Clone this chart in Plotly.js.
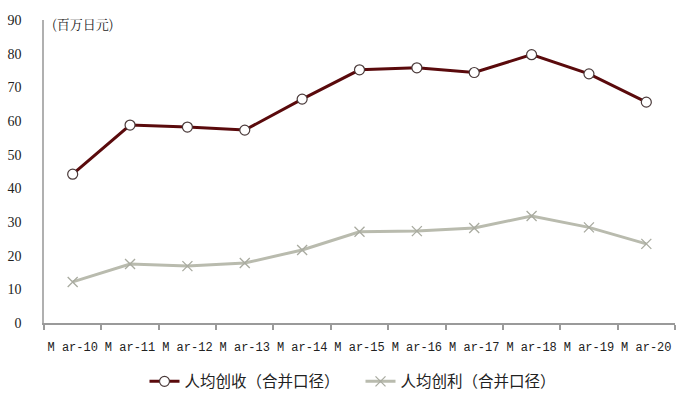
<!DOCTYPE html>
<html>
<head>
<meta charset="utf-8">
<script src="https://cdn.plot.ly/plotly-3.0.1.min.js"></script>
<style>
  body { margin: 0; background: #fff; }
  #chart { width: 700px; height: 404px; }
</style>
</head>
<body>
<div id="chart"></div>
<script>
// categories (fiscal year ends)
var periods = ['M ar-10', 'M ar-11', 'M ar-12', 'M ar-13', 'M ar-14', 'M ar-15',
               'M ar-16', 'M ar-17', 'M ar-18', 'M ar-19', 'M ar-20']
// per-capita revenue, million yen
var revenue = [44.2, 58.8, 58.2, 57.3, 66.5, 75.2, 75.8, 74.4, 79.7, 74.0, 65.6]
// per-capita profit, million yen
var profit = [12.2, 17.5, 16.9, 17.8, 21.7, 27.1, 27.3, 28.2, 31.8, 28.4, 23.5]
var yTicks = [0, 10, 20, 30, 40, 50, 60, 70, 80, 90]

var cjk = '"Noto Sans CJK SC", sans-serif'

var traces = [
  {
    x: periods, y: revenue,
    name: '人均创收（合并口径）',
    mode: 'lines+markers',
    line: { color: '#5a0a0c', width: 3 },
    marker: { symbol: 'circle', size: 10, color: '#ffffff', line: { color: '#4a3a3a', width: 1.2 } }
  },
  {
    x: periods, y: profit,
    name: '人均创利（合并口径）',
    mode: 'lines+markers',
    line: { color: '#b9bbae', width: 3 },
    marker: { symbol: 'x-thin', size: 10, line: { color: '#a9aba0', width: 1.3 } }
  }
]

var layout = {
  width: 700, height: 404,
  margin: { l: 44, r: 25, t: 20, b: 81 },
  paper_bgcolor: '#ffffff', plot_bgcolor: '#ffffff',
  showlegend: true,
  legend: {
    orientation: 'h', xref: 'container', yref: 'container',
    x: 0.515, xanchor: 'center', y: 0.055, yanchor: 'middle',
    font: { family: cjk, size: 15.5, color: '#222' },
    entrywidth: 171, entrywidthmode: 'pixels'
  },
  xaxis: {
    type: 'category', automargin: false, range: [-0.5, periods.length - 0.5],
    showgrid: false, zeroline: false,
    showline: true, linecolor: '#9a9a9a', linewidth: 1.5,
    ticks: 'outside', tickson: 'boundaries', ticklen: 5, tickcolor: '#9a9a9a', tickwidth: 1.5,
    tickangle: 0,
    tickfont: { family: '"Liberation Mono", "Courier New", monospace', size: 12, color: '#222' },
    ticklabelstandoff: 12
  },
  yaxis: {
    range: [0, 90], tickvals: yTicks, automargin: false,
    showgrid: false, zeroline: false,
    showline: true, linecolor: '#b0b0b0', linewidth: 1.5,
    ticks: '', ticklabelstandoff: 18,
    tickfont: { family: '"Times New Roman", "Liberation Serif", serif', size: 14, color: '#222' }
  },
  annotations: [{
    text: '(百万日元)', xref: 'paper', yref: 'paper', x: 0.01, y: 0.99,
    xanchor: 'left', yanchor: 'middle', showarrow: false,
    font: { family: '"Noto Serif CJK SC", ' + cjk, size: 13, color: '#222' }
  }]
}

Plotly.newPlot(document.getElementById('chart'), traces, layout, { displayModeBar: false })
</script>
</body>
</html>
